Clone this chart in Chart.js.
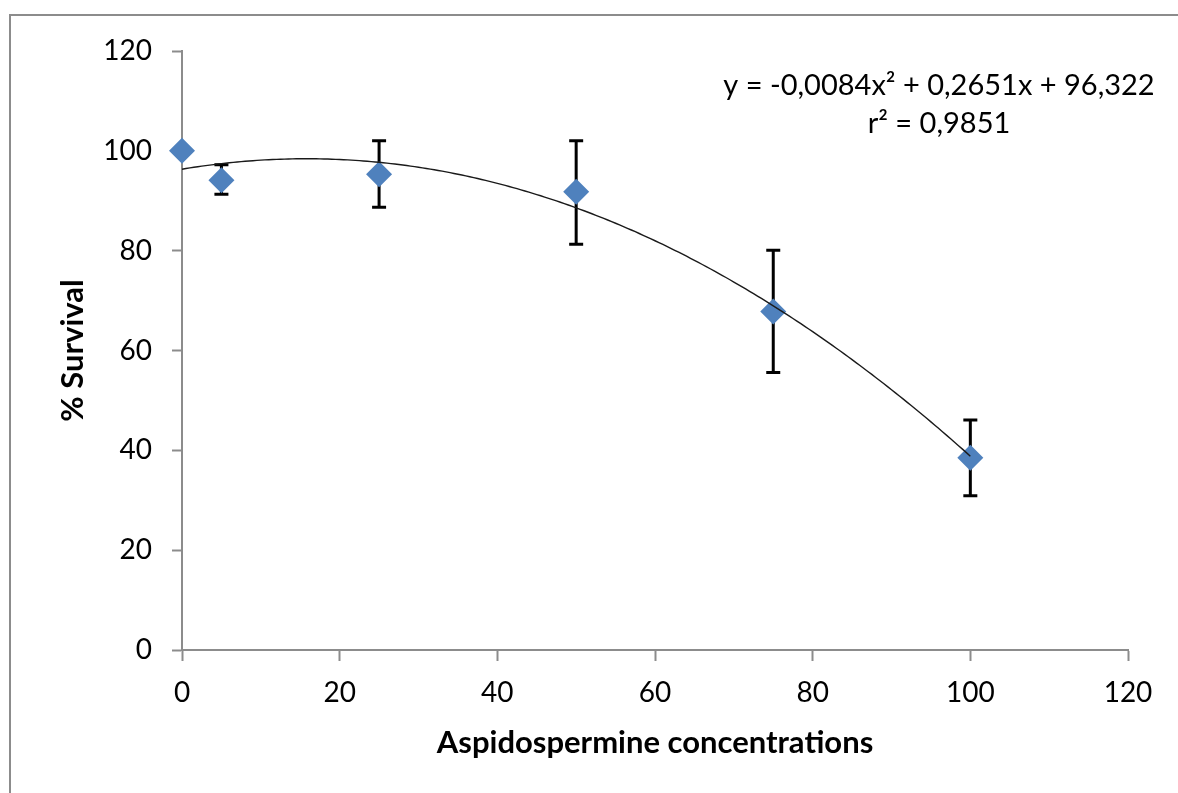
<!DOCTYPE html>
<html>
<head>
<meta charset="utf-8">
<script src="https://cdn.jsdelivr.net/npm/chart.js@4"></script>
<style>
  html, body { margin: 0; padding: 0; background: #fff; overflow: hidden; }
  #frame {
    position: absolute; left: 9px; top: 14px;
    width: 1300px; height: 900px;
    border: 2px solid #8c8c8c;
  }
  #wrap { position: absolute; left: 0; top: 0; width: 1178px; height: 793px; }
</style>
</head>
<body>
<div id="frame"></div>
<div id="wrap"><canvas id="chart"></canvas></div>
<script>
const conc = [0, 5, 25, 50, 75, 100];
const survival = [100, 94.1, 95.3, 91.8, 67.8, 38.5];
const errLow = [null, 91.3, 88.7, 81.3, 55.6, 30.9];
const errHigh = [null, 97.2, 102.0, 102.0, 80.1, 46.1];

// trendline coefficients shown in the chart: a*x^2 + b*x + c
const trendCoef = [-0.0084, 0.2651, 96.322];
const trendRange = [0, 100];
const eqLines = ["y = -0,0084x² + 0,2651x + 96,322", "r² = 0,9851"];

const xTicks = [0, 20, 40, 60, 80, 100, 120];
const yTicks = [0, 20, 40, 60, 80, 100, 120];

const FONT = "Lato, 'Open Sans', sans-serif";
const AXIS = "#8c8c8c";

const errorBars = {
  id: "errorBars",
  beforeDatasetsDraw(chart) {
    const { ctx, scales: { x, y } } = chart;
    ctx.save();
    ctx.strokeStyle = "#000";
    ctx.lineWidth = 3;
    conc.forEach((c, i) => {
      if (errLow[i] == null) return;
      const px = x.getPixelForValue(c);
      const lo = y.getPixelForValue(errLow[i]);
      const hi = y.getPixelForValue(errHigh[i]);
      ctx.beginPath();
      ctx.moveTo(px, lo); ctx.lineTo(px, hi);
      ctx.moveTo(px - 7, lo); ctx.lineTo(px + 7, lo);
      ctx.moveTo(px - 7, hi); ctx.lineTo(px + 7, hi);
      ctx.stroke();
    });
    ctx.restore();
  }
};

const trendline = {
  id: "trendline",
  afterDatasetsDraw(chart) {
    const { ctx, scales: { x, y } } = chart;
    const [a, b, c] = trendCoef;
    ctx.save();
    ctx.strokeStyle = "#1a1a1a";
    ctx.lineWidth = 1.4;
    ctx.beginPath();
    for (let v = trendRange[0]; v <= trendRange[1] + 1e-9; v += 0.5) {
      const px = x.getPixelForValue(v);
      const py = y.getPixelForValue(a * v * v + b * v + c);
      if (v === trendRange[0]) ctx.moveTo(px, py); else ctx.lineTo(px, py);
    }
    ctx.stroke();

    ctx.fillStyle = "#000";
    ctx.font = "29px " + FONT;
    ctx.textAlign = "center";
    ctx.textBaseline = "middle";
    ctx.fillText(eqLines[0], 939, 86);
    ctx.fillText(eqLines[1], 939, 124);
    ctx.restore();
  }
};

const canvas = document.getElementById("chart");
new Chart(canvas, {
  type: "scatter",
  data: {
    datasets: [{
      data: conc.map((c, i) => ({ x: c, y: survival[i] })),
      pointStyle: "rectRot",
      pointRadius: 13,
      pointHoverRadius: 13,
      backgroundColor: "#4F81BD",
      borderColor: "#4F81BD",
      borderWidth: 0,
      clip: false
    }]
  },
  options: {
    responsive: true,
    maintainAspectRatio: false,
    animation: false,
    events: [],
    layout: { padding: { left: 0, right: 50, top: 51, bottom: 0 } },
    plugins: { legend: { display: false }, tooltip: { enabled: false } },
    scales: {
      x: {
        type: "linear",
        min: 0, max: 120,
        afterFit: s => { s.height = 143; },
        afterBuildTicks: s => { s.ticks = xTicks.map(v => ({ value: v })); },
        grid: { drawOnChartArea: false, drawTicks: true, tickLength: 11, tickColor: AXIS, tickWidth: 2 },
        border: { display: true, color: AXIS, width: 2 },
        ticks: { color: "#000", font: { family: FONT, size: 28 }, padding: 15 },
        title: {
          display: true, text: "Aspidospermine concentrations", color: "#000",
          font: { family: FONT, size: 31, weight: "bold" }, padding: { top: 0, bottom: 31 }
        }
      },
      y: {
        min: 0, max: 120,
        afterFit: s => { s.width = 182; },
        afterBuildTicks: s => { s.ticks = yTicks.map(v => ({ value: v })); },
        grid: { drawOnChartArea: false, drawTicks: true, tickLength: 10, tickColor: AXIS, tickWidth: 2 },
        border: { display: true, color: AXIS, width: 2 },
        ticks: { color: "#000", font: { family: FONT, size: 28 }, padding: 20 },
        title: {
          display: true, text: "% Survival", color: "#000",
          font: { family: FONT, size: 31, weight: "bold" }, padding: { top: 54, bottom: 0 }
        }
      }
    }
  },
  plugins: [errorBars, trendline]
});
</script>
</body>
</html>
